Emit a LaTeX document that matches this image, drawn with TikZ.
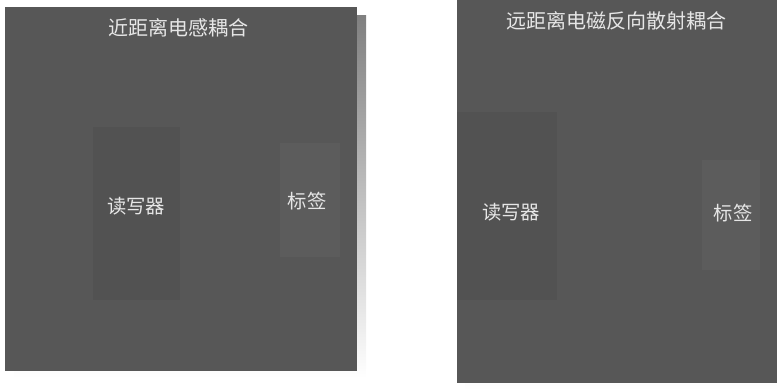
\documentclass[tikz,border=0pt]{standalone}
\usepackage{fontspec}
\newfontfamily\cjk{Noto Sans CJK SC}
\definecolor{panel}{HTML}{575757}
\definecolor{shade}{HTML}{A6A6A6}
\definecolor{darkzone}{HTML}{525252}
\definecolor{lightzone}{HTML}{5C5C5C}
\definecolor{txt}{HTML}{E6E6E6}
\tikzset{
  lbl/.style={text=txt, font=\cjk\fontsize{14.5}{16}\selectfont, inner sep=0pt},
  ttl/.style={text=txt, font=\cjk\fontsize{15}{17}\selectfont, inner sep=0pt},
}
\begin{document}
\begin{tikzpicture}[x=0.75pt,y=-0.75pt]
\useasboundingbox (0,0) rectangle (777,390);
% left panel
\fill[shade] (14,15) rectangle (366,378);
\fill[panel] (5,7) rectangle (357,371);
\fill[darkzone] (93,127) rectangle (180,300);
\fill[lightzone] (280,143) rectangle (340,257);
\node[ttl] (t1) at (178,28) {近距离电感耦合};
\node[lbl] (r1) at (136,206) {读写器};
\node[lbl] (g1) at (307,201) {标签};
% right panel
\fill[shade] (465,8) rectangle (777,390);
\fill[panel] (457,0) rectangle (777,383);
\fill[darkzone] (457,112) rectangle (557,300);
\fill[lightzone] (702,160) rectangle (760,270);
\node[ttl] (t2) at (616,21) {远距离电磁反向散射耦合};
\node[lbl] (r2) at (511,212) {读写器};
\node[lbl] (g2) at (733,213) {标签};
\end{tikzpicture}
\end{document}
